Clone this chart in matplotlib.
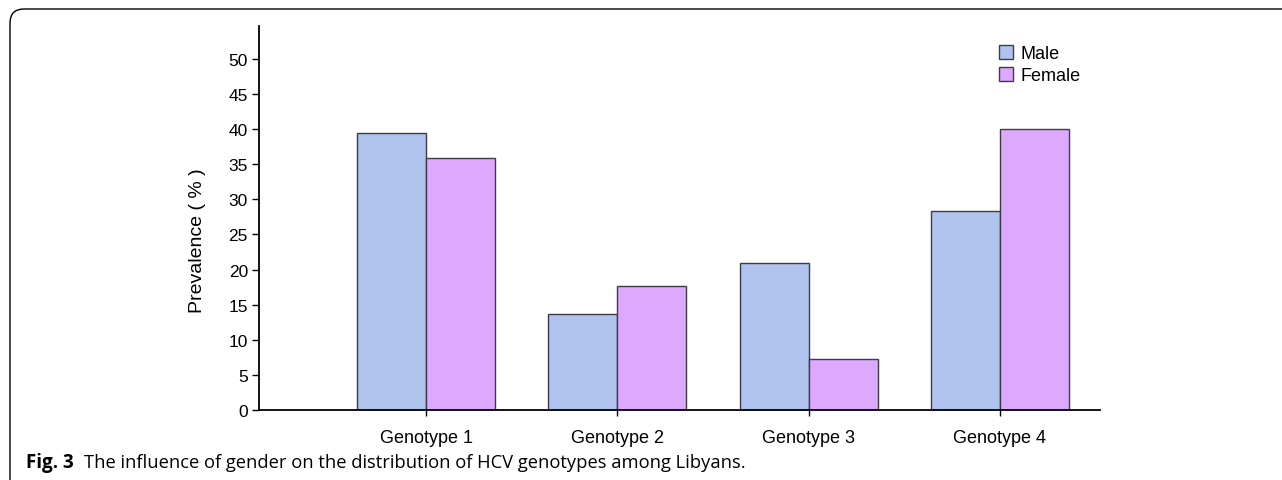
import numpy as np
import matplotlib
matplotlib.use('Agg')
import matplotlib.pyplot as plt
from matplotlib.patches import FancyBboxPatch

plt.rcParams['font.family'] = ['Liberation Sans', 'DejaVu Sans']

# data
genotypes = ['Genotype 1', 'Genotype 2', 'Genotype 3', 'Genotype 4']
male = [39.5, 13.7, 20.9, 28.4]
female = [35.9, 17.7, 7.3, 40.0]
yticks = [0, 5, 10, 15, 20, 25, 30, 35, 40, 45, 50]

W, H = 1282, 481
fig = plt.figure(figsize=(W / 100, H / 100), dpi=100)
ax = fig.add_axes([259 / W, 1 - 411 / H, (1100 - 259) / W, (411 - 27) / H])

x = np.arange(len(genotypes))
bw = 0.36
ax.bar(x - bw / 2, male, bw, color='#B0C2EE', edgecolor='#3c3c44', linewidth=1, label='Male')
ax.bar(x + bw / 2, female, bw, color='#DDA8FF', edgecolor='#3c3c44', linewidth=1, label='Female')

ax.set_xlim(-0.873, 3.523)
ax.set_ylim(0, 54.7)
ax.set_yticks(yticks)
ax.set_xticks(x)
ax.set_xticklabels(genotypes, fontsize=13)
ax.tick_params(axis='y', labelsize=12.5, length=5, width=1, pad=3)
ax.tick_params(axis='x', length=4, width=1, pad=10)
ax.spines['top'].set_visible(False)
ax.spines['right'].set_visible(False)
ax.spines['left'].set_linewidth(1.3)
ax.spines['bottom'].set_linewidth(1.3)
ax.set_ylabel('Prevalence ( % )', fontsize=14)
ax.yaxis.set_label_coords(206 / W, 0.5, transform=fig.transFigure)

ax.legend(loc='upper left', bbox_to_anchor=(999 / W, 1 - 46 / H), bbox_transform=fig.transFigure,
          frameon=False, fontsize=13, handlelength=0.78, handleheight=0.78, handletextpad=0.4,
          labelspacing=0.28, borderpad=0, borderaxespad=0)

# rounded frame (cut at right/bottom like the page)
frame = FancyBboxPatch((10 / W, -0.2), 1.2, 1 - 10 / H + 0.2, boxstyle='round,pad=0,rounding_size=0.011',
                       transform=fig.transFigure, fill=False, edgecolor='black', linewidth=1,
                       mutation_aspect=W / H, clip_on=False)
fig.patches.append(frame)

# caption
fig.text(26 / W, 1 - 463 / H, 'Fig. 3', fontsize=13.5, fontweight='bold', family='Open Sans',
         va='center', ha='left')
fig.text(84 / W, 1 - 463 / H, 'The influence of gender on the distribution of HCV genotypes among Libyans.',
         fontsize=13.2, family='Open Sans', va='center', ha='left')

fig.savefig('out.png', dpi=100)
